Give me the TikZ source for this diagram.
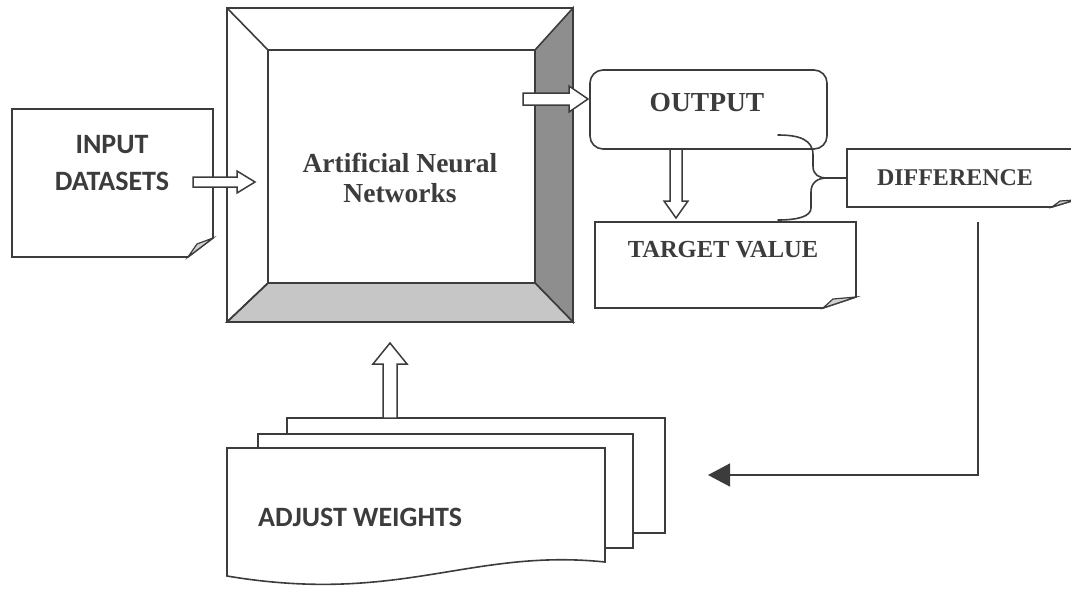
\documentclass[tikz,border=0pt]{standalone}
\usepackage{fontspec}
\setmainfont{Liberation Serif}
\newfontfamily\labelsans{Carlito}
\usetikzlibrary{arrows.meta,calc}
\definecolor{ink}{HTML}{3C3C3C}
\definecolor{darkbevel}{HTML}{8E8E8E}
\definecolor{lightbevel}{HTML}{C6C6C6}
\definecolor{curlgray}{HTML}{D2D2D2}
\tikzset{
  outline/.style={draw=ink, line width=1.6pt, line join=miter},
  curlflap/.style={draw=ink, line width=1.2pt, fill=curlgray},
  hollow/.style={draw=ink, line width=1.5pt, fill=white, line join=miter},
  sanslabel/.style={font=\labelsans\bfseries\fontsize{28}{37}\selectfont, text=ink, align=center, inner sep=0pt},
  seriflabel/.style={font=\bfseries\fontsize{27.5}{30}\selectfont, text=ink, align=center, inner sep=0pt},
  feedback/.style={draw=ink, line width=1.6pt, -{Triangle[length=22pt,width=23pt]}},
  bracket/.style={draw=ink, line width=1.6pt, line cap=round}
}
\begin{document}
\begin{tikzpicture}[x=1pt,y=-1pt]
\useasboundingbox (0,0) rectangle (1071,590);

% ---------- input datasets (page with curled corner)
\draw[outline, fill=white] (12,109) -- (213,109) -- (213,238) -- (188,257) -- (12,257) -- cycle;
\draw[curlflap] (188,257) -- (197,244) -- (213,238) -- cycle;
\node[sanslabel] (inp) at (112,163) {INPUT\\DATASETS};

% ---------- bevelled frame of the network
\draw[outline, fill=white] (227,8) rectangle (573,322);
\draw[outline, fill=darkbevel] (573,8) -- (573,322) -- (535,283) -- (535,50) -- cycle;
\draw[outline, fill=lightbevel] (227,322) -- (573,322) -- (535,283) -- (268,283) -- cycle;
\draw[outline] (227,8) -- (268,50);
\draw[outline] (227,322) -- (268,283);
\draw[outline, fill=white] (268,50) rectangle (535,283);
\node[seriflabel] (ann) at (400,178) {Artificial Neural\\Networks};

% ---------- output
\draw[outline, rounded corners=13pt, fill=white] (590,70) rectangle (827,149);
\node[seriflabel] (out) at (707,103) {OUTPUT};

% ---------- target value
\draw[outline, fill=white] (595,222) -- (856,222) -- (856,297) -- (823,308) -- (595,308) -- cycle;
\draw[curlflap] (823,308) -- (833,299) -- (856,297) -- cycle;
\node[seriflabel, font=\bfseries\fontsize{24.5}{28}\selectfont] (tgt) at (723,250) {TARGET VALUE};

% ---------- difference
\draw[outline, fill=white] (847,149) -- (1075,149) -- (1075,200) -- (1052,207) -- (847,207) -- cycle;
\draw[curlflap] (1052,207) -- (1060,201) -- (1075,200) -- cycle;
\node[seriflabel, font=\bfseries\fontsize{24}{28}\selectfont] (dif) at (955,178) {DIFFERENCE};

% ---------- stacked pages: adjust weights
\draw[outline, fill=white] (287,418) -- (665,418) -- (665,533) -- (633,533) -- (633,434) -- (287,434) -- cycle;
\draw[outline, fill=white] (258,434) -- (633,434) -- (633,548) -- (605,548) -- (605,448) -- (258,448) -- cycle;
\draw[outline, fill=white] (227,448) -- (605,448) -- (605,562)
  .. controls (470,548) and (400,605) .. (227,576) -- cycle;
\node[sanslabel, anchor=west] (adj) at (258,517) {ADJUST WEIGHTS};

% ---------- anchor points of the connectors
\coordinate (inTail) at (193,182);
\coordinate (annTail) at (523,99);
\coordinate (outTail) at (676,149);
\coordinate (adjTail) at (390,418);
\coordinate (braceTop) at (778,135);
\coordinate (braceBot) at (778,220);
\coordinate (braceTip) at (827,178);
\coordinate (difIn) at (847,178);
\coordinate (fbStart) at (978,222);
\coordinate (fbEnd) at (708,475);

% hollow block arrows
\draw[hollow, shift={(inTail)}] (0,-5) -- (44,-5) -- (44,-11) -- (62,0) -- (44,11) -- (44,5) -- (0,5) -- cycle;
\draw[hollow, shift={(annTail)}] (0,-6) -- (46,-6) -- (46,-13) -- (65,0) -- (46,13) -- (46,6) -- (0,6) -- cycle;
\draw[hollow, shift={(outTail)}] (-6,0) -- (-6,52) -- (-12,52) -- (0,69) -- (12,52) -- (6,52) -- (6,0) -- cycle;
\draw[hollow, shift={(adjTail)}] (-7,0) -- (-7,-54) -- (-17,-54) -- (0,-75) -- (17,-54) -- (7,-54) -- (7,0) -- cycle;

% brace joining output and target to the difference
\draw[bracket] (braceTop) .. controls (800,135) and (813,140) .. (813,155) -- (813,166)
  .. controls (813,175) and (819,178) .. (braceTip);
\draw[bracket] (braceTip) .. controls (818,178) and (811,182) .. (811,192) -- (811,208)
  .. controls (811,217) and (796,220) .. (braceBot);
\draw[bracket] (braceTip) -- (difIn);

% feedback line back to the weights
\draw[feedback] (fbStart) |- (fbEnd);
\end{tikzpicture}
\end{document}
